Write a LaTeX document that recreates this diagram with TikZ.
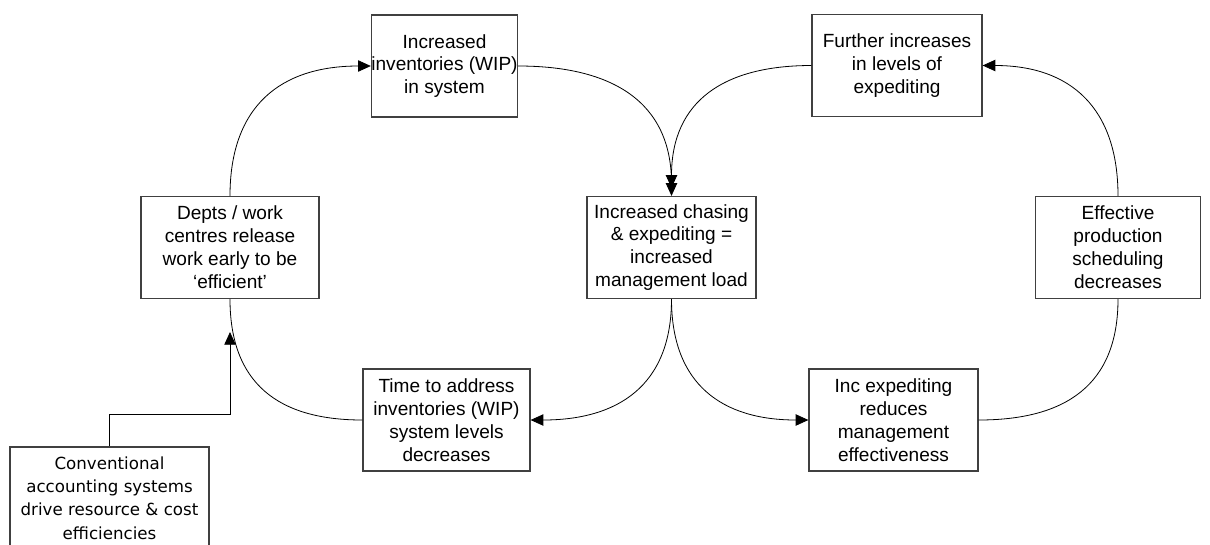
\documentclass[tikz,border=0pt]{standalone}
\usepackage{fontspec}
\setmainfont{Liberation Sans}
\newfontfamily\convfont{DejaVu Sans}
\usetikzlibrary{arrows.meta}

\begin{document}
\begin{tikzpicture}[
    x=0.75pt, y=0.75pt,
    box/.style={rectangle, draw=black!75, line width=0.9pt, align=center, inner sep=0pt,
        minimum width=#1, minimum height=76.5pt, font=\fontsize{14.3}{17.2}\selectfont},
    arrow/.style={-{Triangle[length=9.5pt,width=8.5pt]}, line width=0.6pt},
    line/.style={line width=0.6pt}
]
    \clip (0,0) rectangle (1210,-544);

    % Loop boxes
    \node[box=105.75pt] (inv) at (444.5,-66) {Increased\\inventories (WIP)\\in system};
    \node[box=127.5pt] (further) at (897,-65.5) {Further increases\\in levels of\\expediting};
    \node[box=133.5pt] (depts) at (230,-247.5) {Depts / work\\centres release\\work early to be\\`efficient'};
    \node[box=126.75pt] (chase) at (671.5,-247.5) {Increased chasing\\\& expediting =\\increased\\management load};
    \node[box=123.75pt] (effect) at (1118,-247.5) {Effective\\production\\scheduling\\decreases};
    \node[box=125.25pt] (time) at (446.5,-420) {Time to address\\inventories (WIP)\\system levels\\decreases};
    \node[box=126.75pt] (incexp) at (893.5,-420) {Inc expediting\\reduces\\management\\effectiveness};

    % Driver box
    \node[box=149.25pt, font=\convfont\fontsize{12.5}{17.5}\selectfont] (conv) at (109.5,-498)
        {Conventional\\accounting systems\\drive resource \& cost\\efficiencies};

    % Curved connectors
    \draw[arrow] (depts.north) to[out=90, in=180, looseness=1.2] (inv.west);
    \draw[arrow] (inv.east) to[out=0, in=90, looseness=1.2] (chase.north);
    \draw[arrow] (further.west) to[out=180, in=90, looseness=1.2] ([yshift=6pt]chase.north);
    \draw[arrow] (effect.north) to[out=90, in=0, looseness=1.2] (further.east);
    \draw[line] (incexp.east) to[out=0, in=-90, looseness=1.2] (effect.south);
    \draw[arrow] (chase.south) to[out=-90, in=180, looseness=1.2] (incexp.west);
    \draw[arrow] (chase.south) to[out=-90, in=0, looseness=1.2] (time.east);
    \draw[line] (time.west) to[out=180, in=-90, looseness=1.2] (depts.south);

    % Elbow connector from driver
    \coordinate (merge) at (230,-332);
    \draw[arrow] (conv.north) -- ++(0,32) -| (merge);
\end{tikzpicture}
\end{document}
